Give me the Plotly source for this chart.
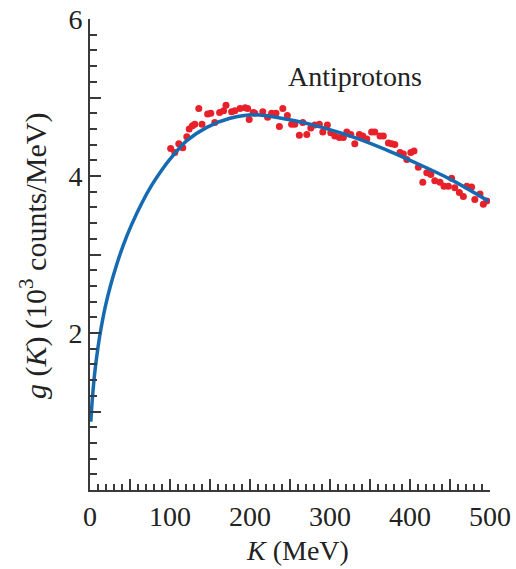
import plotly.graph_objects as go

# measured antiproton counts (red dots)
k_data = [100.8, 106, 111, 116, 121, 124, 128, 131, 136, 140, 147, 151, 156, 162, 167, 170,
          177, 181, 187.5, 194, 197, 199, 204,
          206, 216, 222, 227, 232.5, 236.7, 241, 246.7, 252, 256, 261.7, 266, 271, 276, 281,
          286.7, 291, 296.7, 301, 306, 311.7, 316.7, 321, 326, 331, 336.7, 341, 346, 352,
          356, 362.5,
          366.7, 373, 377, 381, 387.5, 391.7, 396, 401, 405, 410.4, 416, 421, 426, 431,
          437.5, 442.5, 448, 452, 456, 461.7, 466.7, 471, 477, 481, 487.5, 491.7, 496]
g_data = [4.35, 4.30, 4.41, 4.36, 4.50, 4.60, 4.64, 4.66, 4.86, 4.66, 4.79, 4.80, 4.68, 4.81, 4.83, 4.90,
          4.82, 4.83, 4.86, 4.87, 4.86, 4.72, 4.81,
          4.80, 4.82, 4.75, 4.80, 4.80, 4.63, 4.86, 4.77, 4.66, 4.66, 4.52, 4.68, 4.53, 4.61, 4.65,
          4.66, 4.56, 4.65, 4.55, 4.51, 4.49, 4.49, 4.56, 4.53, 4.41, 4.53, 4.51, 4.47, 4.56,
          4.56, 4.51,
          4.51, 4.42, 4.41, 4.40, 4.30, 4.28, 4.21, 4.30, 4.32, 4.11, 3.92, 4.04, 4.02, 3.94,
          3.92, 3.87, 3.87, 3.97, 3.85, 3.79, 3.74, 3.87, 3.86, 3.70, 3.77, 3.64, 3.68]

# fitted curve (blue line)
k_fit = [1, 3, 6, 10, 14, 19, 25, 33, 42, 52, 65, 77, 90, 100, 121, 146, 175, 205,
         248, 290, 331, 369, 400, 450, 498]
g_fit = [0.87, 1.17, 1.50, 1.82, 2.07, 2.33, 2.58, 2.86, 3.13, 3.38, 3.66, 3.88, 4.08, 4.215,
         4.45, 4.62, 4.735, 4.78, 4.72, 4.62, 4.49, 4.34, 4.20, 3.96, 3.68]

x_ticks = [0, 50, 100, 150, 200, 250, 300, 350, 400, 450, 500]
x_labels = ['0', '', '100', '', '200', '', '300', '', '400', '', '500']
y_ticks = [0, 1, 2, 3, 4, 5, 6]
y_labels = ['', '', '2', '', '4', '', '6']

FONT = 'Liberation Serif'
AX = '#3a3a3a'
TXT = '#222'
FS = 28

fig = go.Figure()

fig.add_trace(go.Scatter(
    x=k_data, y=g_data, mode='markers',
    marker=dict(color='rgb(232,32,42)', size=7),
    showlegend=False
))

fig.add_trace(go.Scatter(
    x=k_fit, y=g_fit, mode='lines',
    line=dict(color='rgb(22,106,178)', width=3.5, shape='spline', smoothing=1.0),
    showlegend=False
))

fig.add_annotation(
    x=331, y=5.27, xref='x', yref='y', text='Antiprotons', showarrow=False,
    font=dict(family=FONT, size=FS, color=TXT), xanchor='center', yanchor='middle'
)

# axis titles
fig.add_annotation(
    x=0.5175, y=-0.128, xref='paper', yref='paper', text='<i>K</i> (MeV)', showarrow=False,
    font=dict(family=FONT, size=FS, color=TXT), xanchor='center', yanchor='middle'
)
fig.add_annotation(
    x=-0.14, y=0.497, xref='paper', yref='paper',
    text='<i>g</i> (<i>K</i>) (10<sup>3</sup> counts/MeV)', showarrow=False, textangle=-90,
    font=dict(family=FONT, size=30, color=TXT), xanchor='center', yanchor='middle'
)

fig.update_xaxes(
    range=[0, 500], tickvals=x_ticks, ticktext=x_labels, automargin=False,
    ticks='inside', ticklen=11, tickwidth=2, tickcolor=AX,
    minor=dict(dtick=10, ticks='inside', ticklen=6, tickwidth=1.5, tickcolor=AX),
    showline=True, linecolor=AX, linewidth=2, showgrid=False, zeroline=False,
    tickfont=dict(family=FONT, size=FS, color=TXT)
)
fig.update_yaxes(
    range=[0, 6], tickvals=y_ticks, ticktext=y_labels, automargin=False,
    ticks='inside', ticklen=11, tickwidth=2, tickcolor=AX,
    minor=dict(dtick=0.2, ticks='inside', ticklen=7, tickwidth=1.5, tickcolor=AX),
    showline=True, linecolor=AX, linewidth=2, showgrid=False, zeroline=False,
    tickfont=dict(family=FONT, size=FS, color=TXT)
)

fig.update_layout(
    width=516, height=569,
    margin=dict(l=90, r=26, t=19, b=79),
    plot_bgcolor='white', paper_bgcolor='white'
)

# drop the default 8px body margin so the chart sits flush in the window
fig.write_html('out.html', config={'displayModeBar': False},
               post_script="document.body.style.margin='0';")
